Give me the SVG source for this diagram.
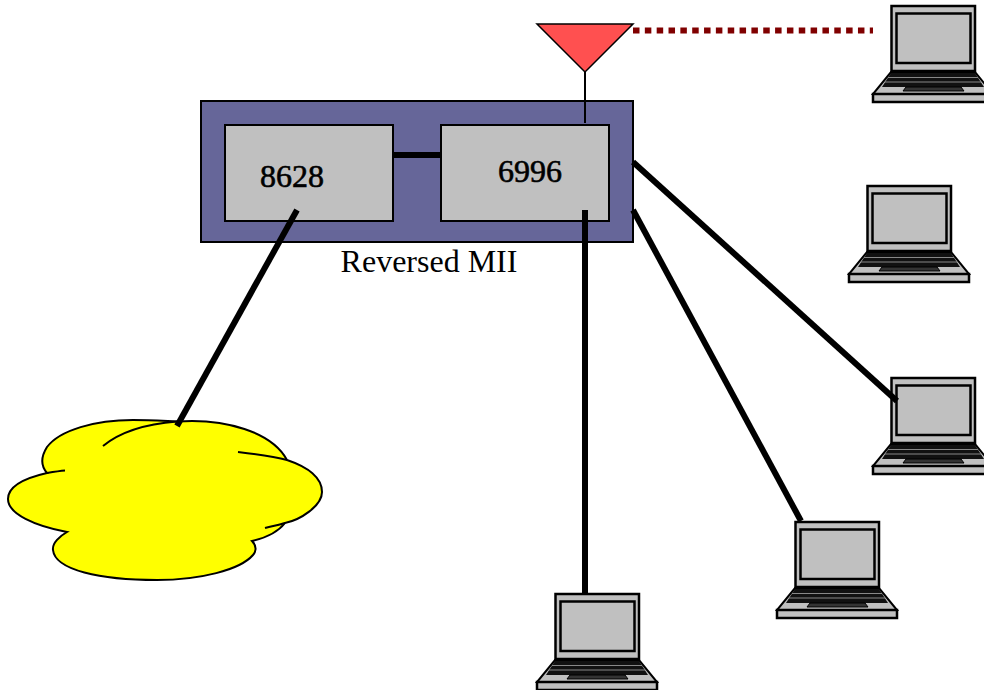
<svg xmlns="http://www.w3.org/2000/svg" width="984" height="690" viewBox="0 0 984 690">
<style>
.chip{fill:#c0c0c0;stroke:#000;stroke-width:2}
.wire{stroke:#000;stroke-width:6;fill:none}
.t{font-family:"Liberation Serif","Times New Roman",serif;fill:#000}
.g{fill:#c0c0c0;stroke:#000;stroke-width:2.500}
.cl{fill:none;stroke:#000;stroke-width:2}
</style>
<defs>
<g id="laptop">
<rect class="g" x="18.500" y="1" width="83.500" height="65"/>
<rect class="g" x="23.500" y="8.500" width="74" height="49.500"/>
<path d="M18 67H102L120 89H0Z" fill="#c0c0c0" stroke="#000" stroke-width="2"/>
<path d="M18 68H102L111 82H9Z" fill="#111"/>
<path d="M15 72.500H105M12 77H108" stroke="#888" stroke-width="1.200"/>
<path d="M33 82H88L91 86H30Z" fill="#333" stroke="#000" stroke-width="1"/>
<rect class="g" x="0" y="89" width="120" height="8"/>
</g>
</defs>
<rect width="984" height="690" fill="#fff"/>
<g id="board">
<rect x="201" y="101" width="432" height="141" fill="#666699" stroke="#000" stroke-width="2"/>
</g>
<g id="chip-8628">
<rect class="chip" x="225" y="125" width="168" height="96"/>
<text class="t" x="292" y="187" font-size="32" text-anchor="middle" stroke="#000" stroke-width=".6">8628</text>
</g>
<g id="chip-6996">
<rect class="chip" x="441" y="125" width="168" height="96"/>
<text class="t" x="530" y="182" font-size="32" text-anchor="middle" stroke="#000" stroke-width=".6">6996</text>
</g>
<g id="antenna">
<path d="M537 24H633L585 72Z" fill="#ff5050" stroke="#000" stroke-width="1.500"/>
</g>
<g id="cloud">
<path d="M177 421.500C225 418 272 432 287 460C308 467 322 478 322 492C322 506 300 520 285 523C278 532 265 538 252 541C258 547 255 553 253 555C240 570 200 580 157 580C100 580 55 570 53 550C52 543 60 536 67 532C35 526 8 514 8 499C8 486 25 478 47 473C40 465 42 455 47 447C60 430 95 420 133 420C150 420 165 421 177 421.500Z" fill="#ff0" stroke="#000" stroke-width="2"/>
<path class="cl" d="M103 446C120 432 145 424 177 421.500M47 473C53 472 59 471 65 470.500M238 452C255 454 272 456 287 460M265 528C272 526 279 525 285 523"/>
</g>
<g id="laptop-1"><use href="#laptop" x="873" y="5"/></g>
<g id="laptop-2"><use href="#laptop" x="849" y="185"/></g>
<g id="laptop-3"><use href="#laptop" x="873" y="377"/></g>
<g id="laptop-4"><use href="#laptop" x="777" y="521"/></g>
<g id="laptop-5"><use href="#laptop" x="537" y="593"/></g>
<g id="connectors">
<path d="M393 155H441" stroke="#000" stroke-width="6"/>
<path d="M585 72V123" stroke="#000" stroke-width="2"/>
<path class="wire" d="M297 210L177 426"/>
<path class="wire" d="M585 210V593"/>
<path class="wire" d="M633 162L897 401"/>
<path class="wire" d="M633 210L801 521"/>
<path d="M633 30.500H873" stroke="#800000" stroke-width="6" stroke-dasharray="6.500 5.340" fill="none"/>
</g>
<text class="t" x="429" y="272" font-size="32" text-anchor="middle" id="label">Reversed MII</text>
</svg>
